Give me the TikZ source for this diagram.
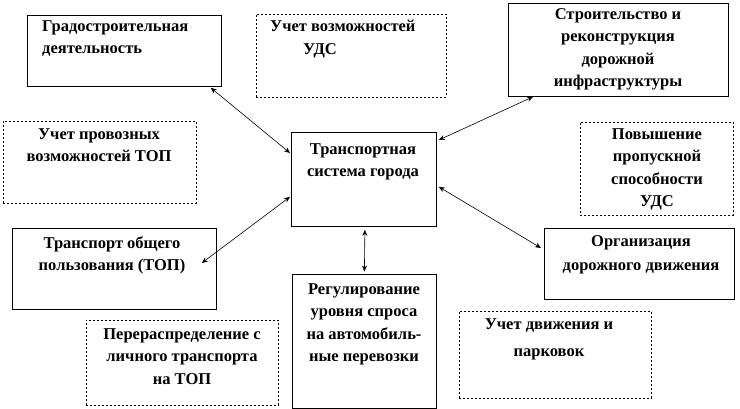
\documentclass[tikz,border=0pt]{standalone}
\usepackage{fontspec}
\setmainfont{Liberation Serif}
\usetikzlibrary{arrows.meta,calc}
\begin{document}
\begin{tikzpicture}[x=1pt,y=-1pt,
 box/.style={draw,line width=0.8pt,anchor=north west,inner sep=0},
 dbox/.style={draw,dashed,line width=0.6pt,dash pattern=on 2pt off 2pt,anchor=north west,inner sep=0},
 txt/.style={font=\bfseries\fontsize{16.5}{22.5}\selectfont,align=center,anchor=north,inner sep=0},
 arr/.style={{Stealth[length=6pt,width=5pt]}-{Stealth[length=6pt,width=5pt]},line width=0.6pt}]
\useasboundingbox (0,0) rectangle (740,408);
\node[box,minimum width=194pt,minimum height=71pt] (grad) at (27,15) {};
\node[dbox,minimum width=190pt,minimum height=83pt] (udsv) at (256,14) {};
\node[box,minimum width=220pt,minimum height=93pt] (stroi) at (508,3) {};
\node[dbox,minimum width=193pt,minimum height=82pt] (prov) at (3,121) {};
\node[box,minimum width=145pt,minimum height=94pt] (ts) at (291,132) {};
\node[dbox,minimum width=153pt,minimum height=93pt] (pov) at (580,122) {};
\node[box,minimum width=204pt,minimum height=81pt] (top) at (12,228) {};
\node[box,minimum width=190pt,minimum height=71pt] (odd) at (544,228) {};
\node[box,minimum width=144pt,minimum height=134pt] (reg) at (292,273.5) {};
\node[dbox,minimum width=192pt,minimum height=85pt] (pere) at (86,320) {};
\node[dbox,minimum width=192pt,minimum height=87pt] (park) at (459,311) {};
\node[txt,align=left,anchor=north west] (t1) at (42,20) {Градостроительная\\деятельность};
\node[txt,align=left,anchor=north west] (t2) at (270,20) {Учет возможностей\\\hspace*{33pt}УДС};
\node[txt] (t3) at (618,8) {Строительство и\\реконструкция\\дорожной\\инфраструктуры};
\node[txt] (t4) at (99,128) {Учет провозных\\возможностей ТОП};
\node[txt] (t5) at (363,143) {Транспортная\\система города};
\node[txt] (t6) at (657,128) {Повышение\\пропускной\\способности\\УДС};
\node[txt] (t7) at (112,236) {Транспорт общего\\пользования (ТОП)};
\node[txt,font=\bfseries\fontsize{16.5}{24}\selectfont] (t8) at (641,235) {Организация\\дорожного движения};
\node[txt] (t9) at (364,283) {Регулирование\\уровня спроса\\на автомобиль-\\ные перевозки};
\node[txt] (t10) at (182,328) {Перераспределение с\\личного транспорта\\на ТОП};
\node[txt,font=\bfseries\fontsize{16.5}{27}\selectfont] (t11) at (549,318) {Учет движения и\\парковок};
\draw[arr] ($(grad.south east)+(-11,1)$) -- ($(ts.north west)+(-1,21)$);
\draw[arr] ($(ts.north east)+(2,8)$) -- ($(stroi.south west)+(25,0)$);
\draw[arr] ($(top.north east)+(-15,35)$) -- ($(ts.south west)+(-1,-30)$);
\draw[arr] ($(ts.south east)+(2,-40)$) -- ($(odd.north west)+(-3,20)$);
\draw[arr] ($(ts.south)+(1,3)$) -- ($(reg.north)+(0,-2)$);
\end{tikzpicture}
\end{document}
